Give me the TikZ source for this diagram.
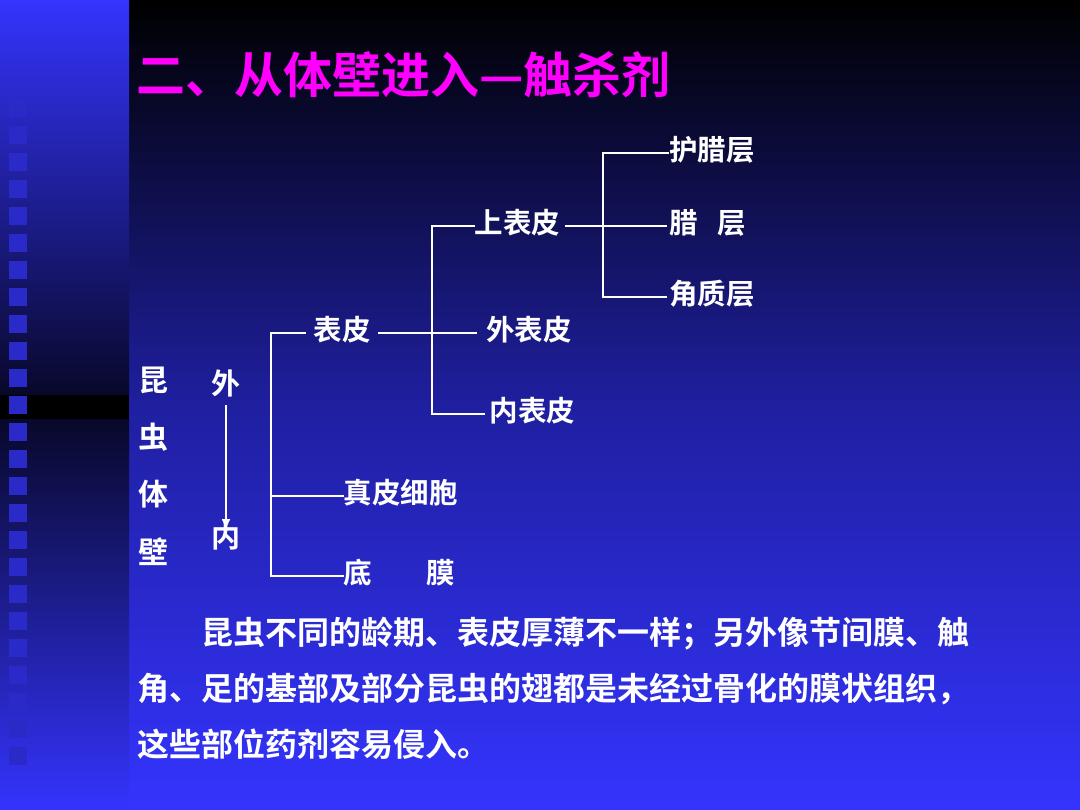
\documentclass[tikz,border=0pt]{standalone}
\usepackage{fontspec}
\setmainfont{Noto Sans CJK SC}[BoldFont=* Bold]
\usetikzlibrary{arrows.meta}

\definecolor{slideblue}{HTML}{3434FF}
\definecolor{slidemid}{HTML}{1F1FA0}
\definecolor{stripdark}{HTML}{08082A}
\definecolor{squareblue}{HTML}{2A2AC8}
\definecolor{titlepink}{HTML}{FF00FF}

\tikzset{
  lbl/.style={inner sep=0pt, text=white, font=\fontsize{28.5}{30}\selectfont\bfseries},
  leaf/.style={lbl, anchor=west, text height=21.4pt, text depth=5.7pt},
  brace/.style={white, line width=1.2pt},
}

\begin{document}
\begin{tikzpicture}[x=1pt, y=-1pt]
   % background
    \useasboundingbox (0,0) rectangle (1080,810);
    \shade[top color=black, bottom color=slideblue, middle color=slidemid] (129,0) rectangle (1080,810);
    \shade[top color=slideblue, bottom color=stripdark] (0,0) rectangle (129,395);
    \fill[black] (0,395) rectangle (129,420);
    \shade[top color=stripdark, bottom color=slideblue] (0,420) rectangle (129,810);
    \draw[squareblue, line width=18pt, dash pattern=on 18pt off 9pt] (18,99) -- (18,765);

   % title
    \node[lbl, anchor=west, text=titlepink, font=\fontsize{49}{50}\selectfont\bfseries] (title) at (136,75) {二、从体壁进入—触杀剂};

   % insect body wall
    \node[lbl, align=center, font=\fontsize{30}{57.3}\selectfont\bfseries] (kunchong) at (153,466) {昆\\虫\\体\\壁};
    \node[lbl, font=\fontsize{29}{30}\selectfont\bfseries] (wai) at (226,383) {外};
    \node[lbl, font=\fontsize{29}{30}\selectfont\bfseries] (nei) at (226,537) {内};
    \draw[brace, -{Triangle[width=8pt,length=9pt]}, shorten <=8pt, shorten >=-5pt] (wai) -- (nei);

   % layers
    \node[leaf] (biaopi) at (313.5,333) {表皮};
    \node[leaf] (zhenpi) at (343.5,496) {真皮细胞};
    \node[leaf] (dimo) at (343.5,576) {底\hspace{1.9em}膜};
    \node[leaf] (shangbiaopi) at (474.5,226) {上表皮};
    \node[leaf] (waibiaopi) at (486,333) {外表皮};
    \node[leaf] (neibiaopi) at (489.5,414) {内表皮};
    \node[leaf] (hula) at (669,153) {护腊层};
    \node[leaf] (la) at (669,226) {腊\hspace{0.7em}层};
    \node[leaf] (jiaozhi) at (669,297) {角质层};

    \coordinate (k1) at (271,0);
    \coordinate (k2) at (432,0);
    \coordinate (k3) at (603,0);

    \draw[brace, shorten <=8pt] (biaopi.west) -- (biaopi.west -| k1) |- (dimo.west);
    \draw[brace] (k1 |- zhenpi.west) -- (zhenpi.west);
    \draw[brace, shorten <=7pt, shorten >=9pt] (biaopi.east) -- (waibiaopi.west);
    \draw[brace, shorten >=4.5pt] (shangbiaopi.west) -- (shangbiaopi.west -| k2) |- (neibiaopi.west);
    \draw[brace, shorten <=5pt, shorten >=2pt] (shangbiaopi.east) -- (la.west);
    \draw[brace, shorten >=2pt] (hula.west) -- (hula.west -| k3) |- (jiaozhi.west);

   % note
    \node[lbl, anchor=north west, align=left, font=\fontsize{32}{56}\selectfont\bfseries] (note) at (137,617) {\hspace*{2em}昆虫不同的龄期、表皮厚薄不一样；另外像节间膜、触\\角、足的基部及部分昆虫的翅都是未经过骨化的膜状组织，\\这些部位药剂容易侵入。};

\end{tikzpicture}
\end{document}
